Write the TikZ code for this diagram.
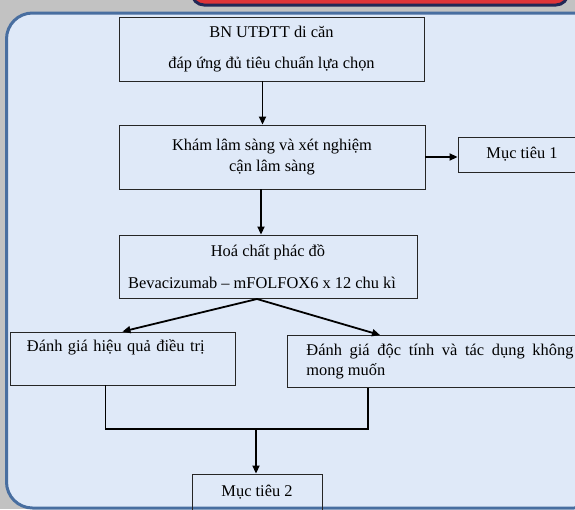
\documentclass[tikz,border=0pt]{standalone}
\usepackage{fontspec}
\setmainfont{Liberation Serif}
\usetikzlibrary{arrows.meta,positioning,calc}

\definecolor{pagegray}{RGB}{194,194,194}
\definecolor{panelfill}{RGB}{223,233,248}
\definecolor{paneledge}{RGB}{72,110,160}
\definecolor{tabred}{RGB}{224,52,56}
\definecolor{tabnavy}{RGB}{34,40,86}

\begin{document}
\begin{tikzpicture}[
    x=1pt, y=-1pt,
    font=\fontsize{16.4}{19.5}\selectfont,
    arrow/.style={-{Triangle[length=8pt,width=7pt]}, line width=1.8pt},
    link/.style={line width=1.8pt},
    stepbox/.style={draw=black!85, line width=0.9pt, align=center, inner sep=0pt}
]
\useasboundingbox (0,0) rectangle (575,509);
\clip (0,0) rectangle (575,509);

% page background and panel
\fill[pagegray] (0,0) rectangle (575,509);
\draw[line width=3pt, draw=tabnavy, fill=tabred, rounded corners=12pt] (192,-40) rectangle (568,5);
\draw[line width=3pt, draw=paneledge, fill=panelfill, rounded corners=26pt] (6.5,13) rectangle (600,508);

\node[stepbox, minimum width=305, minimum height=64] (start) at (271.5,49)
{BN UTĐTT di căn\\[12pt]đáp ứng đủ tiêu chuẩn lựa chọn};
\node[stepbox, minimum width=306, minimum height=64] (exam) at (272,157)
{Khám lâm sàng và xét nghiệm\\[1pt]cận lâm sàng};
\node[stepbox, minimum width=128, minimum height=35] (goal1) at (522,154.5) {Mục tiêu 1};
\node[stepbox, minimum width=298, minimum height=63] (chemo) at (268,266.5)
{Hoá chất phác đồ\\[13pt]\hspace*{-12pt}Bevacizumab – mFOLFOX6 x 12 chu kì};

\node[stepbox, minimum width=225, minimum height=53, text width=191pt, align=left, inner xsep=17pt] (efficacy) at (122.5,358.5)
{Đánh giá hiệu quả điều trị\\\strut};
\node[stepbox, anchor=north west, minimum height=52, text width=267pt, align=justify, inner xsep=19pt] (toxicity) at (287,335)
{Đánh giá độc tính và tác dụng không mong muốn};

\node[stepbox, minimum width=130, minimum height=36] (goal2) at (257,492) {Mục tiêu 2};

\coordinate (fork) at (257,299);
\coordinate (join) at (256,429);

\draw[arrow] ([xshift=-9pt]start.south) -- ([xshift=-9pt]start.south |- exam.north);
\draw[arrow] (exam.east) -- (exam.east -| goal1.west);
\draw[arrow] ([xshift=-11pt]exam.south) -- ([xshift=-11pt]exam.south |- chemo.north);
\draw[arrow] (fork) -- (efficacy.north);
\draw[arrow] (fork) -- ($(toxicity.north west)+(93,0)$);
\draw[link] ([xshift=-17pt]efficacy.south) |- (join) -| ($(toxicity.south west)+(81,0)$);
\draw[arrow] (join) -- (join |- goal2.north);

\end{tikzpicture}
\end{document}
